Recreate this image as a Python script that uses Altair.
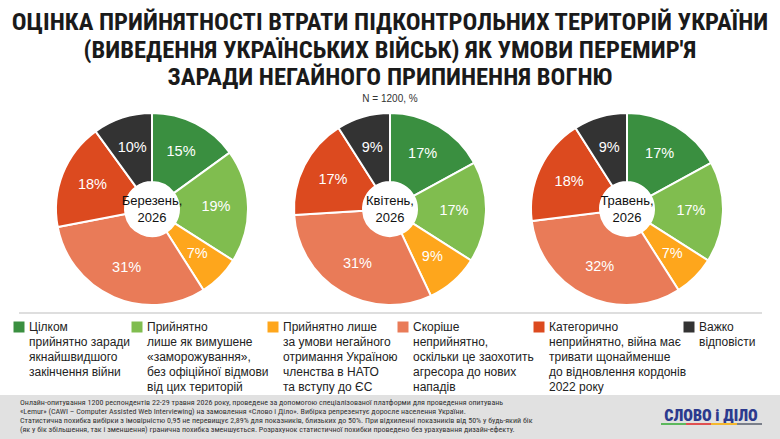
import altair as alt
import pandas as pd

# ---- data ----
months = ["Березень,\n2026", "Квітень,\n2026", "Травень,\n2026"]
categories = [
    "Цілком прийнятно",
    "Прийнятно як заморожування",
    "Прийнятно за умови НАТО/ЄС",
    "Скоріше неприйнятно",
    "Категорично неприйнятно",
    "Важко відповісти",
]
values_march = [15, 19, 7, 31, 18, 10]
values_april = [17, 17, 9, 31, 17, 9]
values_may = [17, 17, 7, 32, 18, 9]
legend_labels = [
    "Цілком\nприйнятно заради\nякнайшвидшого\nзакінчення війни",
    "Прийнятно\nлише як вимушене\n«заморожування»,\nбез офіційної відмови\nвід цих територій",
    "Прийнятно лише\nза умови негайного\nотримання Україною\nчленства в НАТО\nта вступу до ЄС",
    "Скоріше\nнеприйнятно,\nоскільки це заохотить\nагресора до нових\nнападів",
    "Категорично\nнеприйнятно, війна має\nтривати щонайменше\nдо відновлення кордонів\n2022 року",
    "Важко\nвідповісти",
]
title_text = (
    "ОЦІНКА ПРИЙНЯТНОСТІ ВТРАТИ ПІДКОНТРОЛЬНИХ ТЕРИТОРІЙ УКРАЇНИ\n"
    "(ВИВЕДЕННЯ УКРАЇНСЬКИХ ВІЙСЬК) ЯК УМОВИ ПЕРЕМИР'Я\n"
    "ЗАРАДИ НЕГАЙНОГО ПРИПИНЕННЯ ВОГНЮ"
)
subtitle_text = "N = 1200, %"
footer_text = (
    "Онлайн-опитування 1200 респондентів 22-29 травня 2026 року, проведене за допомогою спеціалізованої платформи для проведення опитувань\n"
    "«Lemur» (CAWI – Computer Assisted Web Interviewing) на замовлення «Слово і Діло». Вибірка репрезентує доросле населення України.\n"
    "Статистична похибка вибірки з імовірністю 0,95 не перевищує 2,89% для показників, близьких до 50%. При відхиленні показників від 50% у будь-який бік\n"
    "(як у бік збільшення, так і зменшення) гранична похибка зменшується. Розрахунок статистичної похибки проведено без урахування дизайн-ефекту."
)
logo_text = "СЛОВО і ДІЛО"

# ---- styling / layout ----
colors = ["#3a8f40", "#80bd4f", "#fea61c", "#e97b58", "#dc4a1f", "#333333"]
logo_colors = ["#5cb85c", "#e05050", "#f5b82e", "#7a7f8a"]
W, H = 780, 439
PIE_CX = [152, 390, 627]
PIE_CY = 209
R_OUT, R_IN, R_LABEL = 96, 27, 64
LEGEND_X = [19, 137, 273, 403, 539, 689]
LEGEND_Y = 327
SANS = "'Liberation Sans', Arial, sans-serif"
NARROW = "'Roboto Condensed', 'Liberation Sans', sans-serif"

rows = []
for m, vals in zip(months, [values_march, values_april, values_may]):
    for i, (c, v) in enumerate(zip(categories, vals)):
        rows.append({"month": m, "cat": c, "idx": i, "value": v, "label": f"{v}%"})
df = pd.DataFrame(rows)

color_enc = alt.Color("cat:N", scale=alt.Scale(domain=categories, range=colors), legend=None)
theta_enc = alt.Theta("value:Q", stack=True, scale=alt.Scale(domain=[0, 100]))

base = alt.Chart(df)
layers = []

# header
layers.append(
    alt.Chart(pd.DataFrame({"t": [title_text]})).mark_text(
        font=NARROW, fontSize=24.6, fontWeight="bold", color="#1a1a1a",
        lineBreak="\n", lineHeight=27.5, align="center", baseline="alphabetic",
    ).encode(text="t:N", x=alt.value(W / 2), y=alt.value(30))
)
layers.append(
    alt.Chart(pd.DataFrame({"t": [subtitle_text]})).mark_text(
        font=SANS, fontSize=10, color="#333333", align="center", baseline="middle",
    ).encode(text="t:N", x=alt.value(W / 2), y=alt.value(99))
)

# donuts
for m, cx in zip(months, PIE_CX):
    sub = base.transform_filter(alt.datum.month == m)
    layers.append(
        sub.mark_arc(outerRadius=R_OUT, innerRadius=R_IN, stroke="white", strokeWidth=2).encode(
            theta=theta_enc, color=color_enc, order=alt.Order("idx:Q"),
            x=alt.value(cx), y=alt.value(PIE_CY),
        )
    )
    layers.append(
        sub.mark_text(radius=R_LABEL, font=SANS, fontSize=14.5, color="white").encode(
            theta=theta_enc, text="label:N", detail="cat:N", order=alt.Order("idx:Q"),
            x=alt.value(cx), y=alt.value(PIE_CY),
        )
    )
    layers.append(
        alt.Chart(pd.DataFrame({"t": [m]})).mark_text(
            font=SANS, fontSize=13, color="#111111", lineBreak="\n", lineHeight=17,
            align="center", baseline="middle",
        ).encode(text="t:N", x=alt.value(cx), y=alt.value(PIE_CY - 8))
    )

# separator line
layers.append(
    alt.Chart(pd.DataFrame({"a": [0]})).mark_rule(color="#bdbdbd", strokeWidth=1).encode(
        x=alt.value(19), x2=alt.value(762), y=alt.value(313)
    )
)

# legend
leg = pd.DataFrame({"cat": categories, "text": legend_labels, "lx": LEGEND_X})
layers.append(
    alt.Chart(leg).mark_square(size=121, opacity=1, filled=True).encode(
        x=alt.X("lx:Q", scale=None), y=alt.value(LEGEND_Y), color=color_enc,
    )
)
layers.append(
    alt.Chart(leg).transform_calculate(tx="datum.lx + 10").mark_text(
        font=SANS, fontSize=12, color="#222222", lineBreak="\n", lineHeight=15,
        align="left", baseline="middle",
    ).encode(x=alt.X("tx:Q", scale=None), y=alt.value(LEGEND_Y), text="text:N")
)

# footer band
layers.append(
    alt.Chart(pd.DataFrame({"a": [0]})).mark_rect(color="#e1e1e1").encode(
        x=alt.value(0), x2=alt.value(W), y=alt.value(395), y2=alt.value(H)
    )
)
layers.append(
    alt.Chart(pd.DataFrame({"t": [footer_text]})).mark_text(
        font=NARROW, fontSize=8, color="#333333", lineBreak="\n", lineHeight=9,
        align="left", baseline="middle",
    ).encode(text="t:N", x=alt.value(20), y=alt.value(403))
)

# logo
layers.append(
    alt.Chart(pd.DataFrame({"t": [logo_text]})).mark_text(
        font=NARROW, fontSize=16, fontWeight=900, color="#2c3a8e",
        align="center", baseline="alphabetic",
    ).encode(text="t:N", x=alt.value(711), y=alt.value(421))
)
logo_bar = pd.DataFrame({
    "x1": [661, 686, 711, 737], "x2": [686, 711, 737, 762], "c": logo_colors,
})
layers.append(
    alt.Chart(logo_bar).mark_rule(strokeWidth=2).encode(
        x=alt.X("x1:Q", scale=None), x2="x2:Q", y=alt.value(424),
        color=alt.Color("c:N", scale=None),
    )
)

chart = alt.layer(*layers).properties(
    width=W, height=H, autosize=alt.AutoSizeParams(type="none"), padding=0,
    background="white",
).configure_view(stroke=None)

chart.save("out.html", embed_options={"renderer": "svg", "actions": False})
